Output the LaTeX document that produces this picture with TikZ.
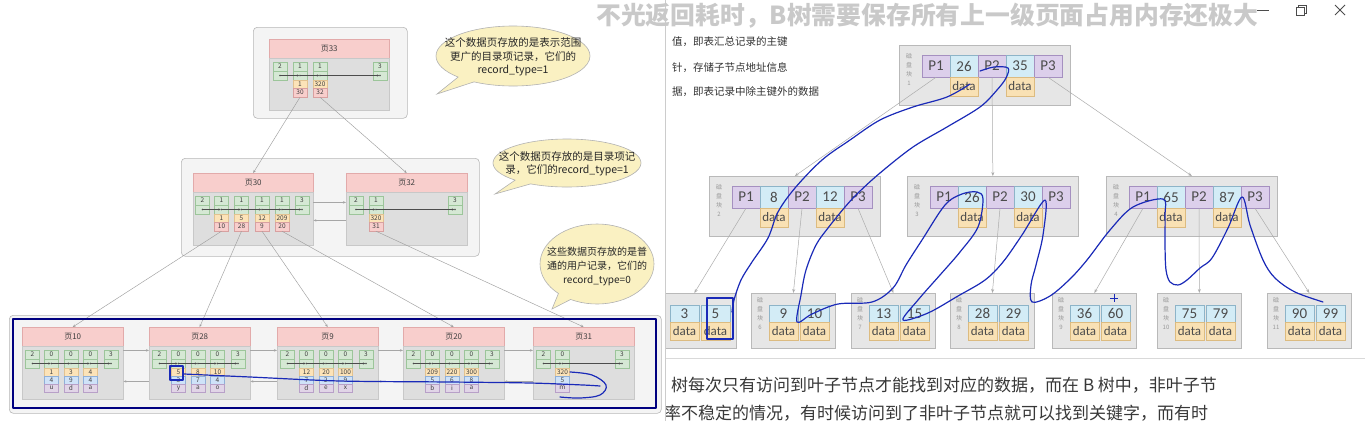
\documentclass[tikz,border=0pt]{standalone}
\usepackage{fontspec}
\setmainfont{Noto Sans CJK SC}
\newfontfamily\lat{Carlito}
\usetikzlibrary{arrows.meta,shapes.callouts}
\definecolor{hdrpink}{HTML}{F8CECC}
\definecolor{hdrline}{HTML}{E2AAAA}
\definecolor{pagebody}{HTML}{DEDEDE}
\definecolor{bodyline}{HTML}{C8C8C8}
\definecolor{gfill}{HTML}{D5E8D4}
\definecolor{gline}{HTML}{9CC59A}
\definecolor{yfill}{HTML}{FCE3B8}
\definecolor{yline}{HTML}{E2C290}
\definecolor{pfill}{HTML}{F8CECC}
\definecolor{pline}{HTML}{D8A0A0}
\definecolor{bfill}{HTML}{CFE2F8}
\definecolor{bline}{HTML}{90B0D8}
\definecolor{vfill}{HTML}{E1D5E7}
\definecolor{vline}{HTML}{B8A0C8}
\definecolor{contfill}{HTML}{F4F4F4}
\definecolor{contline}{HTML}{B8B8B8}
\definecolor{bubble}{HTML}{FAF1C2}
\definecolor{inkblue}{HTML}{1A2AB8}
\definecolor{rboxfill}{HTML}{E6E6E6}
\definecolor{rvfill}{HTML}{DCCFEB}
\definecolor{rvline}{HTML}{A590C0}
\definecolor{rbfill}{HTML}{D3ECF6}
\definecolor{rbline}{HTML}{8DB4C8}
\definecolor{rdfill}{HTML}{F9E1B4}
\definecolor{rdline}{HTML}{DCBB80}
\tikzset{
 cont/.style={draw=contline, fill=contfill, rounded corners=4pt, line width=0.6pt, inner sep=0},
 phdr/.style={draw=hdrline, fill=hdrpink, minimum height=19, inner sep=0, font=\fontsize{8}{9}\selectfont, text=black!75},
 pbody/.style={draw=bodyline, fill=pagebody, inner sep=0},
 cellbase/.style={inner sep=0, minimum width=14, font=\fontsize{6.5}{7}\selectfont, text=black!75, line width=0.4pt},
 gtop/.style={cellbase, draw=gline, fill=gfill, minimum height=9},
 gbot/.style={cellbase, draw=gline, fill=gfill, minimum height=9},
 yc/.style={cellbase, draw=yline, fill=yfill, minimum height=8},
 pkc/.style={cellbase, draw=pline, fill=pfill, minimum height=9},
 bc/.style={cellbase, draw=bline, fill=bfill, minimum height=8},
 vc/.style={cellbase, draw=vline, fill=vfill, minimum height=8},
 dotarr/.style={draw=black!70, line width=0.4pt, -{Stealth[length=2.2pt,width=2pt]}, shorten >=0.8pt},
 larr/.style={draw=gray!75, line width=0.45pt, -{Stealth[length=3pt,width=2.4pt]}},
 parr/.style={draw=gray!70, line width=0.5pt, -{Stealth[length=3pt,width=2.4pt]}},
 bubblestyle/.style={ellipse callout, draw=gray!60, fill=bubble, line width=0.6pt, inner sep=0},
 bubbletext/.style={align=center, inner sep=0, font=\fontsize{10.5}{13.5}\selectfont, text=black!85},
 rbox/.style={draw=gray!55, fill=rboxfill, inner sep=0, line width=0.7pt},
 rc/.style={inner sep=0, minimum width=28, minimum height=22, font=\lat\fontsize{15}{15}\selectfont, text=black!70, line width=0.5pt},
 pc/.style={rc, draw=rvline, fill=rvfill},
 kc/.style={rc, draw=rbline, fill=rbfill},
 dc/.style={rc, minimum height=19, draw=rdline, fill=rdfill, font=\lat\fontsize{13}{13}\selectfont},
 dlabel/.style={align=center, inner sep=0, font=\fontsize{6}{9}\selectfont, text=gray!80},
 tarr/.style={draw=gray!65, line width=0.5pt, -{Stealth[length=4pt,width=3pt]}},
 inkpen/.style={draw=inkblue, line width=1.2pt, line cap=round, line join=round},
 notetext/.style={anchor=west, inner sep=0, text=black!80},
}
% right-side disk block: name, x, y, number, key1, key2
\newcommand\bnode[6]{%
 \node[rbox, anchor=north west, minimum width=171, minimum height=60] (#1) at (#2,#3) {};
 \node[dlabel, anchor=north] at (#2+10,#3+8) {磁\\盘\\块\\#4};
 \node[pc] (#1p1) at (#2+37,#3+21) {P1};
 \node[kc] (#1k1) at (#2+65,#3+21) {#5};
 \node[pc] (#1p2) at (#2+93,#3+21) {P2};
 \node[kc] (#1k2) at (#2+121,#3+21) {#6};
 \node[pc] (#1p3) at (#2+149,#3+21) {P3};
 \node[dc] (#1d1) at (#2+65,#3+41.5) {data};
 \node[dc] (#1d2) at (#2+121,#3+41.5) {data};
}
% leaf: name, x, number, key1, key2
\newcommand\leaf[5]{%
 \node[rbox, anchor=north west, minimum width=84, minimum height=55] (#1) at (#2,293) {};
 \node[dlabel, anchor=north] at (#2+9,297) {磁\\盘\\块\\#3};
 \node[kc, minimum width=29, minimum height=17] (#1k1) at (#2+32.5,313.5) {#4};
 \node[kc, minimum width=29, minimum height=17] (#1k2) at (#2+63.5,313.5) {#5};
 \node[dc, minimum width=29, minimum height=18] (#1d1) at (#2+32.5,331) {data};
 \node[dc, minimum width=29, minimum height=18] (#1d2) at (#2+63.5,331) {data};
}
% left page: name, x, y, width, title, body height
\newcommand\lpage[6]{%
 \node[phdr, anchor=north west, minimum width=#4] (#1) at (#2,#3) {#5};
 \node[pbody, anchor=north, minimum width=#4, minimum height=#6] (#1b) at (#1.south) {};
}
% green record: name, x, ytop, label
\newcommand\grec[4]{%
 \node[gtop] (#1) at (#2,#3+4.5) {#4};
 \node[gbot] (#1d) at (#2,#3+13.5) {};
 \fill[black!70] (#1d.center) circle (0.9);
}
% index column: name, x, ytop, key, page
\newcommand\icol[5]{%
 \node[yc] (#1a) at (#2,#3+4) {#4};
 \node[pkc] (#1b) at (#2,#3+12.5) {#5};
}
% user column: name, x, ytop, a, b, c
\newcommand\ucol[6]{%
 \node[yc] (#1a) at (#2,#3+4) {#4};
 \node[bc] (#1b) at (#2,#3+12) {#5};
 \node[vc] (#1c) at (#2,#3+20) {#6};
}
\newcommand\ugreens[2]{%
 \grec{#1g1}{#2+10.5}{350}{2}\grec{#1g2}{#2+29.5}{350}{0}\grec{#1g3}{#2+49}{350}{0}%
 \grec{#1g4}{#2+68.5}{350}{0}\grec{#1g5}{#2+89}{350}{3}%
 \draw[dotarr] (#1g1d.center) -- (#1g2d.center);
 \draw[dotarr] (#1g2d.center) -- (#1g3d.center);
 \draw[dotarr] (#1g3d.center) -- (#1g4d.center);
 \draw[dotarr] (#1g4d.center) -- (#1g5d.center);
}
\begin{document}
\begin{tikzpicture}[x=1pt,y=-1pt]
\useasboundingbox (0,0) rectangle (1365,421);
\fill[white] (0,0) rectangle (1365,421);

%% ---------------- right side: B-tree ----------------
\node[notetext, font=\fontsize{10.5}{12}\selectfont] (n1) at (672,42) {值，即表汇总记录的主键};
\node[notetext, font=\fontsize{10.5}{12}\selectfont] (n2) at (672,68) {针，存储子节点地址信息};
\node[notetext, font=\fontsize{10.5}{12}\selectfont] (n3) at (672,92) {据，即表记录中除主键外的数据};

\bnode{r1}{899}{45}{1}{26}{35}
\bnode{r2}{709}{176}{2}{8}{12}
\bnode{r3}{907}{176}{3}{26}{30}
\bnode{r4}{1106}{176}{4}{65}{87}

\leaf{la}{652}{5}{3}{5}
\leaf{l6}{751}{6}{9}{10}
\leaf{l7}{851}{7}{13}{15}
\leaf{l8}{950}{8}{28}{29}
\leaf{l9}{1052}{9}{36}{60}
\leaf{l10}{1157}{10}{75}{79}
\leaf{l11}{1267}{11}{90}{99}

\draw[tarr] (r1p1.south) -- (r2.north);
\draw[tarr] (r1p2.south) -- (r3.north);
\draw[tarr] (r1p3.south) -- (r4.north);
\draw[tarr] (r2p1.south) -- (la.north);
\draw[tarr] (r2p2.south) -- (l6.north);
\draw[tarr] (r2p3.south) -- (l7.north);
\draw[tarr] (r3p2.south) -- (l8.north);
\draw[tarr] (r4p1.south) -- (l9.north);
\draw[tarr] (r4p2.south) -- (l10.north);
\draw[tarr] (r4p3.south) -- (l11.north);

% hand-drawn blue ink on the right
\draw[inkpen] plot[smooth, tension=0.55] coordinates {(970,84) (947,97) (913,107) (880,120) (850,140) (822,160) (795,188) (778,212) (768,238) (752,262) (741,280) (734,300) (732,312)};
\draw[inkpen] (707,298) rectangle (733,339);
\draw[inkpen] plot[smooth, tension=0.55] coordinates {(980,71) (994,67) (1008,68) (1006,78) (997,90) (980,107) (947,127) (913,147) (880,173) (858,193) (845,207) (828,228) (816,245) (806,270) (801,295) (797,322) (812,314) (838,304) (872,302) (893,288) (906,265) (922,240) (945,205) (962,194) (977,192) (983,199) (978,227) (960,252) (940,275) (918,300) (903,320) (928,313) (958,296) (985,280) (1003,262) (1022,235) (1045,200) (1043,235) (1036,265) (1031,285) (1032,302) (1050,296) (1070,279) (1087,260) (1110,230) (1133,207) (1163,199) (1165,215) (1165,245) (1166,270) (1170,282) (1178,285) (1187,280) (1200,268) (1212,258) (1228,228) (1242,197) (1250,225) (1263,260) (1275,278) (1295,292) (1323,302)};
\draw[draw=inkblue, line width=1pt] (1110,298) -- (1118,298) (1114,294) -- (1114,302);

\draw[gray!30, line width=0.8pt] (665,358) -- (1365,358);
\node[notetext, font=\fontsize{17}{20}\selectfont, text=black!78] (t1) at (671,385) {树每次只有访问到叶子节点才能找到对应的数据，而在 B 树中，非叶子节};
\node[notetext, font=\fontsize{17}{20}\selectfont, text=black!78] (t2) at (664,413) {率不稳定的情况，有时候访问到了非叶子节点就可以找到关键字，而有时};

%% ---------------- left panel ----------------
\fill[white] (0,0) rectangle (665,421);
\draw[gray!40, line width=0.8pt] (665,0) -- (665,421);

\node[cont, anchor=north west, minimum width=154, minimum height=91] (c33) at (253,27) {};
\node[cont, anchor=north west, minimum width=298, minimum height=98] (c30) at (181,158) {};
\node[cont, anchor=north west, minimum width=652, minimum height=98] (cbot) at (9,315) {};

\lpage{p33}{269}{39}{120}{页33}{52}
\lpage{p30}{193}{173}{120}{页30}{53}
\lpage{p32}{346}{173}{121}{页32}{53}
\lpage{p10}{22}{327}{101}{页10}{53}
\lpage{p28}{149}{327}{101}{页28}{53}
\lpage{p9}{277}{327}{101}{页9}{53}
\lpage{p20}{403}{327}{101}{页20}{53}
\lpage{p31}{533}{327}{101}{页31}{53}

% page 33
\grec{a1}{280}{62}{2}\grec{a2}{300}{62}{1}\grec{a3}{320}{62}{1}\grec{a4}{380}{62}{3}
\icol{a2}{300}{80}{1}{30}
\icol{a3}{320}{80}{320}{32}
\draw[dotarr] (a1d.center) -- (a2d.center);
\draw[dotarr] (a2d.center) -- (a3d.center);
\draw[dotarr] (a3d.center) -- (a4d.center);

% page 30
\grec{b1}{202.5}{196}{2}\grec{b2}{221.5}{196}{1}\grec{b3}{241.5}{196}{1}
\grec{b4}{262}{196}{1}\grec{b5}{282}{196}{1}\grec{b6}{302}{196}{3}
\icol{b2}{221.5}{214}{1}{10}
\icol{b3}{241.5}{214}{5}{28}
\icol{b4}{262}{214}{12}{9}
\icol{b5}{282}{214}{209}{20}
\draw[dotarr] (b1d.center) -- (b2d.center);
\draw[dotarr] (b2d.center) -- (b3d.center);
\draw[dotarr] (b3d.center) -- (b4d.center);
\draw[dotarr] (b4d.center) -- (b5d.center);
\draw[dotarr] (b5d.center) -- (b6d.center);

% page 32
\grec{c1}{356}{196}{2}\grec{c2}{376}{196}{1}\grec{c3}{455}{196}{3}
\icol{c2}{376}{214}{320}{31}
\draw[dotarr] (c1d.center) -- (c2d.center);
\draw[dotarr] (c2d.center) -- (c3d.center);

% leaf pages
\ugreens{p10}{22}
\ucol{p10u1}{51.5}{368}{1}{4}{u}\ucol{p10u2}{71}{368}{3}{9}{d}\ucol{p10u3}{90.5}{368}{4}{4}{a}
\ugreens{p28}{149}
\ucol{p28u1}{178.5}{368}{5}{3}{y}\ucol{p28u2}{198}{368}{8}{7}{a}\ucol{p28u3}{217.5}{368}{10}{4}{o}
\ugreens{p9}{277}
\ucol{p9u1}{306.5}{368}{12}{7}{d}\ucol{p9u2}{326}{368}{20}{2}{e}\ucol{p9u3}{345.5}{368}{100}{9}{x}
\ugreens{p20}{403}
\ucol{p20u1}{432.5}{368}{209}{5}{b}\ucol{p20u2}{452}{368}{220}{6}{i}\ucol{p20u3}{471.5}{368}{300}{8}{a}
\grec{p31g1}{543.5}{350}{2}\grec{p31g2}{562.5}{350}{0}\grec{p31g5}{622}{350}{3}
\draw[dotarr] (p31g1d.center) -- (p31g2d.center);
\draw[dotarr] (p31g2d.center) -- (p31g5d.center);
\ucol{p31u1}{562.5}{368}{320}{5}{m}

% page-to-page links
\draw[parr] ([yshift=-10pt]p30b.north east) -- ([yshift=-10pt]p32b.north west);
\draw[parr] ([yshift=-28pt]p32b.north west) -- ([yshift=-28pt]p30b.north east);
\foreach \pa/\pb in {p10/p28, p28/p9, p9/p20, p20/p31}{
 \draw[parr] ([yshift=-4pt]\pa b.north east) -- ([yshift=-4pt]\pb b.north west);
 \draw[parr] ([yshift=-35pt]\pb b.north west) -- ([yshift=-35pt]\pa b.north east);
}

% parent-child links
\draw[larr] (a2b.south) -- (p30.north);
\draw[larr] (a3b.south) -- (p32.north);
\draw[larr] (b2b.south) -- (p10.north);
\draw[larr] (b3b.south) -- (p28.north);
\draw[larr] (b4b.south) -- (p9.north);
\draw[larr] (b5b.south) -- (p20.north);
\draw[larr] (c2b.south) -- (p31.north);

% callouts
\node[bubblestyle, minimum width=154, minimum height=60, callout absolute pointer={(437,94)}] (k1) at (513,56) {};
\node[bubbletext] (k1t) at (513,57) {这个数据页存放的是表示范围\\更广的目录项记录，它们的\\record\_type=1};
\node[bubblestyle, minimum width=148, minimum height=48, callout absolute pointer={(495,194)}] (k2) at (567,163) {};
\node[bubbletext] (k2t) at (567,164) {这个数据页存放的是目录项记\\录，它们的record\_type=1};
\node[bubblestyle, minimum width=114, minimum height=80, callout absolute pointer={(552,309)}] (k3) at (597,264) {};
\node[bubbletext, font=\fontsize{10}{14}\selectfont] (k3t) at (597,266) {这些数据页存放的是普\\通的用户记录，它们的\\record\_type=0};

% blue ink on the left
\draw[inkpen, draw=blue!50!black] (13,319) rectangle (656,408);
\draw[inkpen] (170,366) rectangle (183,380);
\draw[inkpen] plot[smooth, tension=0.5] coordinates {(184,374) (250,377) (340,381) (450,382) (530,383) (583,385) (600,386)};
\draw[inkpen] plot[smooth, tension=0.6] coordinates {(570,372) (592,375) (606,385) (600,395) (580,398) (560,397)};

%% ---------------- overlay title and window buttons ----------------
\node[anchor=west, inner sep=0, font=\bfseries\fontsize{24.8}{26}\selectfont, text=gray!42] (title) at (596,16) {不光返回耗时，B树需要保存所有上一级页面占用内存还极大};
\draw[black!70, line width=0.8pt] (1257,10) -- (1269,10);
\draw[black!70, line width=0.8pt] (1296,7) rectangle (1304,15);
\draw[black!70, line width=0.8pt] (1298,7) -- (1298,5) -- (1306,5) -- (1306,13) -- (1304,13);
\draw[black!70, line width=0.8pt] (1335,5) -- (1345,15) (1345,5) -- (1335,15);
\end{tikzpicture}
\end{document}
